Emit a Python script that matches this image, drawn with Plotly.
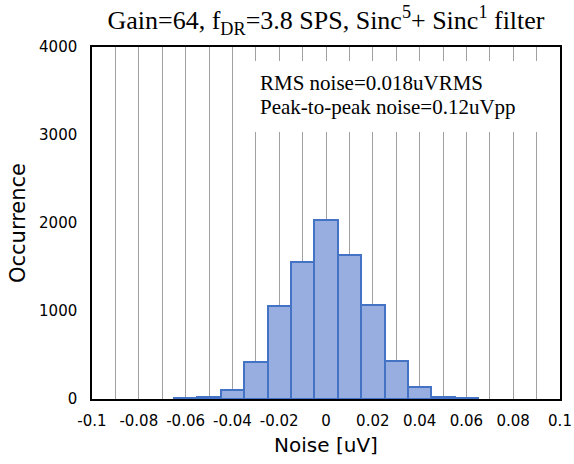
import plotly.graph_objects as go

# Data
bin_centers = [-0.06, -0.05, -0.04, -0.03, -0.02, -0.01, 0.0, 0.01, 0.02, 0.03, 0.04, 0.05, 0.06]
occurrence = [10, 23, 106, 420, 1060, 1560, 2030, 1640, 1070, 432, 136, 23, 8]
x_tick_vals = [-0.1, -0.08, -0.06, -0.04, -0.02, 0, 0.02, 0.04, 0.06, 0.08, 0.1]
x_tick_text = ["-0.1", "-0.08", "-0.06", "-0.04", "-0.02", "0", "0.02", "0.04", "0.06", "0.08", "0.1"]
y_tick_vals = [0, 1000, 2000, 3000, 4000]
title_text = "Gain=64, f<sub>DR</sub>=3.8 SPS, Sinc<sup>5</sup>+ Sinc<sup>1</sup> filter"
box_lines = ["RMS noise=0.018uVRMS", "Peak-to-peak noise=0.12uVpp"]

fig = go.Figure()
fig.add_trace(go.Bar(
    x=bin_centers, y=occurrence, width=0.01,
    marker=dict(color="#98ADE0", line=dict(color="#4472C4", width=2)),
    showlegend=False,
))

fig.update_layout(
    width=574, height=464,
    margin=dict(l=92, r=14, t=47, b=65),
    paper_bgcolor="white", plot_bgcolor="white",
    title=dict(text=title_text, x=0.5, xref="paper", xanchor="center",
               y=0.957, yref="container", yanchor="middle",
               font=dict(family="Liberation Serif", size=26, color="black")),
    bargap=0,
)
fig.update_xaxes(
    range=[-0.1, 0.1], tickvals=x_tick_vals, ticktext=x_tick_text,
    automargin=False,
    showgrid=True, gridcolor="#A0A0A0", gridwidth=1,
    minor=dict(dtick=0.01, tick0=0, showgrid=True, gridcolor="#A0A0A0", gridwidth=1),
    showline=True, linecolor="black", linewidth=1.5, mirror=True,
    ticks="", ticklabelstandoff=7,
    tickfont=dict(family="DejaVu Sans", size=15, color="black"),
    title=dict(text="Noise [uV]", font=dict(family="DejaVu Sans", size=20, color="black"), standoff=9),
    zeroline=False,
)
fig.update_yaxes(
    range=[0, 4000], tickvals=y_tick_vals,
    automargin=False,
    showgrid=False,
    showline=True, linecolor="black", linewidth=1.5, mirror=True,
    ticks="", ticklabelstandoff=10,
    tickfont=dict(family="DejaVu Sans", size=15, color="black"),
    title=dict(text="Occurrence", font=dict(family="DejaVu Sans", size=21, color="black"), standoff=8),
    zeroline=False,
)
# white text box covering gridlines
fig.add_shape(type="rect", xref="x", yref="y", x0=-0.0397, x1=0.0993, y0=3034, y1=3841,
              fillcolor="white", line=dict(width=0), layer="above")
for line_text, yv in zip(box_lines, [3591, 3318]):
    fig.add_annotation(
        xref="x", yref="y", x=-0.029, y=yv, xanchor="left", yanchor="middle",
        text=line_text, showarrow=False, align="left",
        font=dict(family="Liberation Serif", size=21, color="black"),
    )
fig.write_html("out.html")
